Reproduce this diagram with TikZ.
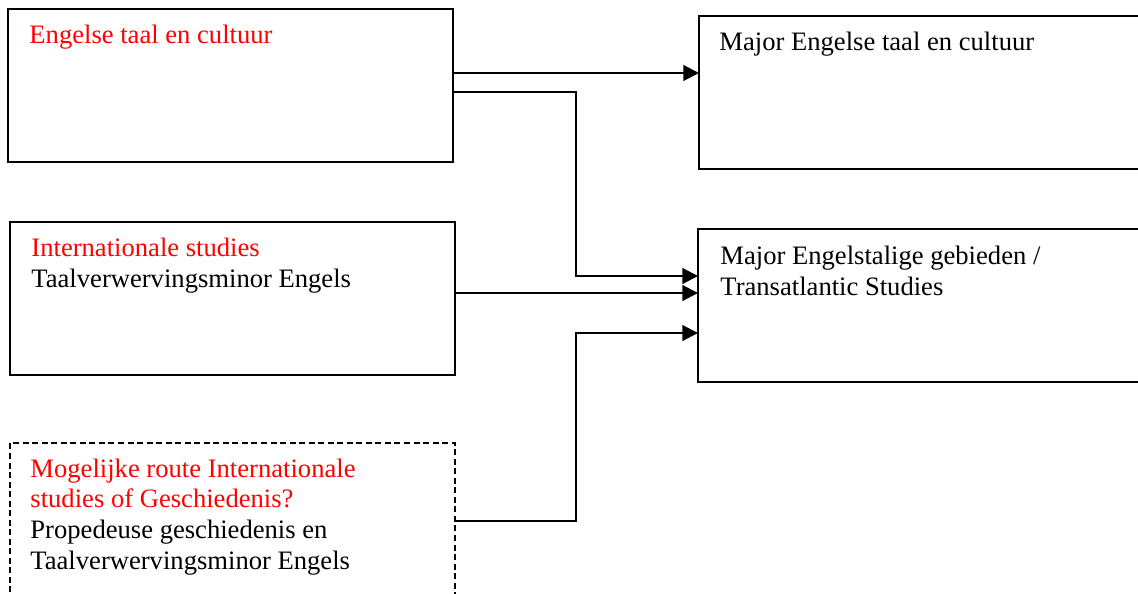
\documentclass[tikz,border=0pt]{standalone}
\usepackage{fontspec}
\setmainfont{Liberation Serif}
\usetikzlibrary{positioning,arrows.meta}
\tikzstyle{arrow} = [line width=1pt,-{Triangle[length=7pt,width=7pt]}]
\tikzstyle{tRect} = [rectangle, draw=black, line width=0.9pt, anchor=north west, outer sep=0pt, minimum width=200.7pt, minimum height=69pt]
\tikzstyle{tDashRect} = [tRect, dash pattern=on 2.7pt off 1.6pt]
\tikzstyle{tText} = [anchor=base west, inner sep=0pt, align=left, font=\fontsize{12}{13.8}\selectfont]

\begin{document}
\begin{tikzpicture}[x=0.451pt,y=-0.451pt]
        \useasboundingbox (0,0) rectangle (1138,593);
        % boxes
        \node[tRect] (ETC) at (8,9) {};
        \node[tRect] (IS) at (10,222) {};
        \node[tDashRect, minimum height=80pt] (Route) at (10,443) {};
        \node[tRect, minimum width=210pt] (MajorETC) at (699,16) {};
        \node[tRect, minimum width=210pt] (MajorETS) at (698,229) {};
        % texts (base anchor sits on the last line)
        \node[tText, text=red] (ETCText) at ([shift={(21,34)}]ETC.north west) {Engelse taal en cultuur};
        \node[tText] (ISText) at ([shift={(21,65)}]IS.north west) {\textcolor{red}{Internationale studies}\\Taalverwervingsminor Engels};
        \node[tText] (RouteText) at ([shift={(20,126)}]Route.north west) {\textcolor{red}{Mogelijke route Internationale}\\\textcolor{red}{studies of Geschiedenis?}\\Propedeuse geschiedenis en\\Taalverwervingsminor Engels};
        \node[tText] (MajorETCText) at ([shift={(20,34)}]MajorETC.north west) {Major Engelse taal en cultuur};
        \node[tText] (MajorETSText) at ([shift={(22,66)}]MajorETS.north west) {Major Engelstalige gebieden /\\Transatlantic Studies};
        % connectors
        \draw[arrow] ([shift={(0,64)}]ETC.north east) -- ([shift={(0,57)}]MajorETC.north west);
        \draw[arrow] ([shift={(0,83)}]ETC.north east) -| ([shift={(-122,47)}]MajorETS.north west) -- ([shift={(0,47)}]MajorETS.north west);
        \draw[arrow] ([shift={(0,71)}]IS.north east) -- ([shift={(0,64)}]MajorETS.north west);
        \draw[arrow] ([shift={(0,78)}]Route.north east) -| ([shift={(-122,104)}]MajorETS.north west) -- ([shift={(0,104)}]MajorETS.north west);
    \end{tikzpicture}
\end{document}
